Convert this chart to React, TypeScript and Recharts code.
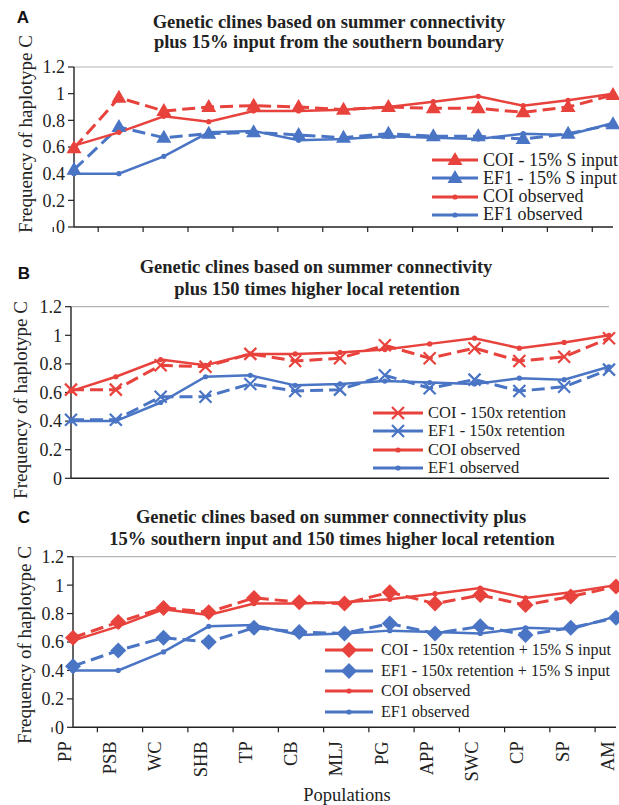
import { LineChart, Line, XAxis, YAxis, ReferenceLine } from 'recharts'

const populations = ['PP', 'PSB', 'WC', 'SHB', 'TP', 'CB', 'MLJ', 'PG', 'APP', 'SWC', 'CP', 'SP', 'AM']

// observed frequencies (same in every panel)
const coiObserved = [0.61, 0.71, 0.83, 0.79, 0.87, 0.87, 0.88, 0.9, 0.94, 0.98, 0.91, 0.95, 1.0]
const ef1Observed = [0.4, 0.4, 0.53, 0.71, 0.72, 0.65, 0.66, 0.68, 0.67, 0.66, 0.7, 0.69, 0.78]

// A: 15% southern input
const coiSInput = [0.59, 0.97, 0.87, 0.9, 0.91, 0.9, 0.88, 0.9, 0.89, 0.89, 0.86, 0.9, 0.99]
const ef1SInput = [0.43, 0.75, 0.67, 0.7, 0.71, 0.69, 0.67, 0.7, 0.68, 0.68, 0.66, 0.7, 0.77]

// B: 150x retention
const coiRetention = [0.62, 0.62, 0.79, 0.78, 0.87, 0.82, 0.84, 0.93, 0.84, 0.91, 0.82, 0.85, 0.98]
const ef1Retention = [0.41, 0.41, 0.57, 0.57, 0.66, 0.61, 0.62, 0.72, 0.63, 0.69, 0.61, 0.64, 0.76]

// C: both
const coiCombined = [0.63, 0.74, 0.84, 0.81, 0.91, 0.88, 0.87, 0.95, 0.87, 0.93, 0.86, 0.92, 0.99]
const ef1Combined = [0.43, 0.54, 0.63, 0.6, 0.7, 0.67, 0.66, 0.73, 0.66, 0.71, 0.65, 0.7, 0.77]

const yTicks = [0, 0.2, 0.4, 0.6, 0.8, 1, 1.2]

const RED = '#E8423D'
const BLUE = '#4A74C4'
const SERIF = "'Liberation Serif', 'DejaVu Serif', 'Times New Roman', Times, serif"
const SANS = "'Liberation Sans', Arial, sans-serif"

const rows = populations.map((population, i) => ({
  population,
  coiObserved: coiObserved[i],
  ef1Observed: ef1Observed[i],
  coiSInput: coiSInput[i],
  ef1SInput: ef1SInput[i],
  coiRetention: coiRetention[i],
  ef1Retention: ef1Retention[i],
  coiCombined: coiCombined[i],
  ef1Combined: ef1Combined[i],
}))

type Marker = 'triangle' | 'cross' | 'diamond' | 'dot'

function MarkerShape({ kind, cx, cy, color }: { kind: Marker; cx?: number; cy?: number; color: string }) {
  if (cx == null || cy == null) return null
  if (kind === 'triangle')
    return <polygon points={`${cx},${cy - 8} ${cx - 7.5},${cy + 5} ${cx + 7.5},${cy + 5}`} fill={color} />
  if (kind === 'cross')
    return (
      <path
        d={`M${cx - 6},${cy - 6}L${cx + 6},${cy + 6}M${cx - 6},${cy + 6}L${cx + 6},${cy - 6}`}
        stroke={color}
        strokeWidth={2.2}
        fill="none"
      />
    )
  if (kind === 'diamond')
    return <polygon points={`${cx},${cy - 8} ${cx + 8},${cy} ${cx},${cy + 8} ${cx - 8},${cy}`} fill={color} />
  return <circle cx={cx} cy={cy} r={2.6} fill={color} />
}

const dotFor = (kind: Marker, color: string) => (p: any) =>
  <MarkerShape key={`${kind}-${p.index}`} kind={kind} cx={p.cx} cy={p.cy} color={color} />

interface PanelProps {
  top: number
  height: number
  plotTop: number
  plotBottom: number
  plotLeft: number
  plotRight: number
  xAxisHeight: number
  coiKey: string
  ef1Key: string
  marker: Marker
  xTicks: boolean
  xLabels: boolean
}

function Panel(props: PanelProps) {
  const { top, height, plotTop, plotBottom, plotLeft, plotRight, xAxisHeight, coiKey, ef1Key, marker, xTicks, xLabels } = props
  const band = (plotRight - plotLeft) / populations.length

  const renderTick = (t: any) => {
    const { x, y, index } = t
    return (
      <g>
        {xTicks && <line x1={x - band / 2} x2={x - band / 2} y1={y} y2={y + 5} stroke="#222" strokeWidth={1.2} />}
        {xTicks && index === populations.length - 1 && (
          <line x1={x + band / 2} x2={x + band / 2} y1={y} y2={y + 5} stroke="#222" strokeWidth={1.2} />
        )}
        {xLabels && (
          <text
            x={x - 2}
            y={y + 14}
            transform={`rotate(-90, ${x - 2}, ${y + 14})`}
            textAnchor="end"
            fontFamily={SERIF}
            fontSize={18.5}
            fill="#222"
          >
            {t.payload.value}
          </text>
        )}
      </g>
    )
  }

  return (
    <div style={{ position: 'absolute', left: 0, top }}>
      <LineChart
        width={619}
        height={height}
        data={rows}
        style={{ overflow: 'visible' }}
        margin={{
          top: plotTop,
          right: 619 - plotRight,
          bottom: height - plotBottom - xAxisHeight,
          left: plotLeft - 40,
        }}
      >
        <XAxis
          dataKey="population"
          type="category"
          interval={0}
          height={xAxisHeight}
          tickLine={false}
          tickSize={0}
          tickMargin={0}
          axisLine={{ stroke: '#222', strokeWidth: 1.4 }}
          tick={renderTick}
        />
        <YAxis
          yAxisId="left"
          width={40}
          domain={[0, 1.2]}
          ticks={yTicks}
          interval={0}
          tickSize={6}
          tickMargin={3}
          tickLine={{ stroke: '#222', strokeWidth: 1.2 }}
          axisLine={{ stroke: '#222', strokeWidth: 1.4 }}
          tick={{ fontFamily: SERIF, fontSize: 18, fill: '#222' }}
        />
        <YAxis
          yAxisId="right"
          orientation="right"
          width={0}
          domain={[0, 1.2]}
          tick={false}
          tickLine={false}
          axisLine={{ stroke: '#b4b4b4', strokeWidth: 1.2 }}
        />
        <ReferenceLine yAxisId="left" y={1.2} stroke="#b4b4b4" strokeWidth={1.2} />
        <Line
          yAxisId="left"
          dataKey={coiKey}
          stroke={RED}
          strokeWidth={3}
          strokeDasharray="13 6"
          dot={dotFor(marker, RED)}
          activeDot={false}
          isAnimationActive={false}
        />
        <Line
          yAxisId="left"
          dataKey={ef1Key}
          stroke={BLUE}
          strokeWidth={3}
          strokeDasharray="13 6"
          dot={dotFor(marker, BLUE)}
          activeDot={false}
          isAnimationActive={false}
        />
        <Line
          yAxisId="left"
          dataKey="coiObserved"
          stroke={RED}
          strokeWidth={2.5}
          dot={dotFor('dot', RED)}
          activeDot={false}
          isAnimationActive={false}
        />
        <Line
          yAxisId="left"
          dataKey="ef1Observed"
          stroke={BLUE}
          strokeWidth={2.5}
          dot={dotFor('dot', BLUE)}
          activeDot={false}
          isAnimationActive={false}
        />
      </LineChart>
    </div>
  )
}

interface LegendProps {
  x: number
  y: number
  rowH: number
  lineW: number
  gap: number
  fontSize: number
  marker: Marker
  labels: string[]
}

function LegendBox({ x, y, rowH, lineW, gap, fontSize, marker, labels }: LegendProps) {
  const colors = [RED, BLUE, RED, BLUE]
  const kinds: Marker[] = [marker, marker, 'dot', 'dot']
  return (
    <div style={{ position: 'absolute', left: x, top: y - rowH / 2 }}>
      {labels.map((label, i) => (
        <div key={label} style={{ display: 'flex', alignItems: 'center', height: rowH }}>
          <svg width={lineW} height={18} style={{ marginRight: gap, flex: 'none' }}>
            <line x1={1} x2={lineW - 1} y1={9} y2={9} stroke={colors[i]} strokeWidth={3} />
            <MarkerShape kind={kinds[i]} cx={lineW / 2} cy={9} color={colors[i]} />
          </svg>
          <span style={{ fontFamily: SERIF, fontSize, color: '#222', whiteSpace: 'nowrap' }}>{label}</span>
        </div>
      ))}
    </div>
  )
}

function Centered({ cx, cy, style, children }: { cx: number; cy: number; style: any; children: any }) {
  return (
    <div
      style={{
        position: 'absolute',
        left: cx,
        top: cy,
        transform: 'translate(-50%, -50%)',
        whiteSpace: 'nowrap',
        lineHeight: 1,
        ...style,
      }}
    >
      {children}
    </div>
  )
}

const titleStyle = { fontFamily: SERIF, fontWeight: 'bold', fontSize: 18.5, color: '#222' }
const letterStyle = { fontFamily: SANS, fontWeight: 'bold', fontSize: 17, color: '#111' }
const yLabelStyle = { fontFamily: SERIF, fontSize: 19, color: '#222' }

function YLabel({ cx, cy }: { cx: number; cy: number }) {
  return (
    <div
      style={{
        position: 'absolute',
        left: cx,
        top: cy,
        transform: 'translate(-50%, -50%) rotate(-90deg)',
        whiteSpace: 'nowrap',
        lineHeight: 1,
        ...yLabelStyle,
      }}
    >
      Frequency of haplotype C
    </div>
  )
}

export default function App() {
  return (
    <div style={{ position: 'absolute', left: 0, top: 0, width: 619, height: 805, background: '#fff', overflow: 'hidden' }}>
      <Panel
        top={0}
        height={245}
        plotTop={67}
        plotBottom={227}
        plotLeft={74}
        plotRight={613}
        xAxisHeight={8}
        coiKey="coiSInput"
        ef1Key="ef1SInput"
        marker="triangle"
        xTicks
        xLabels={false}
      />
      <Panel
        top={245}
        height={250}
        plotTop={61.7}
        plotBottom={233.3}
        plotLeft={71}
        plotRight={609}
        xAxisHeight={2}
        coiKey="coiRetention"
        ef1Key="ef1Retention"
        marker="cross"
        xTicks={false}
        xLabels={false}
      />
      <Panel
        top={490}
        height={315}
        plotTop={66.7}
        plotBottom={237.3}
        plotLeft={73}
        plotRight={616}
        xAxisHeight={60}
        coiKey="coiCombined"
        ef1Key="ef1Combined"
        marker="diamond"
        xTicks
        xLabels
      />

      <Centered cx={23} cy={17} style={letterStyle}>A</Centered>
      <Centered cx={329} cy={21.5} style={titleStyle}>Genetic clines based on summer connectivity</Centered>
      <Centered cx={329} cy={42} style={titleStyle}>plus 15% input from the southern boundary</Centered>

      <Centered cx={24} cy={273} style={letterStyle}>B</Centered>
      <Centered cx={316} cy={266.7} style={titleStyle}>Genetic clines based on summer connectivity</Centered>
      <Centered cx={317} cy={289} style={titleStyle}>plus 150 times higher local retention</Centered>

      <Centered cx={24} cy={517} style={letterStyle}>C</Centered>
      <Centered cx={331} cy={517} style={titleStyle}>Genetic clines based on summer connectivity plus</Centered>
      <Centered cx={332} cy={539} style={titleStyle}>15% southern input and 150 times higher local retention</Centered>

      <YLabel cx={25} cy={134} />
      <YLabel cx={20} cy={400} />
      <YLabel cx={24} cy={645} />

      <Centered cx={347} cy={795} style={{ fontFamily: SERIF, fontSize: 18.5, color: '#222' }}>Populations</Centered>

      <LegendBox
        x={431}
        y={160}
        rowH={18.3}
        lineW={48}
        gap={4}
        fontSize={18}
        marker="triangle"
        labels={['COI - 15% S input', 'EF1 - 15% S input', 'COI observed', 'EF1 observed']}
      />
      <LegendBox
        x={372}
        y={413}
        rowH={18.3}
        lineW={52}
        gap={4}
        fontSize={16.5}
        marker="cross"
        labels={['COI - 150x retention', 'EF1 - 150x retention', 'COI observed', 'EF1 observed']}
      />
      <LegendBox
        x={324}
        y={650}
        rowH={20.7}
        lineW={50}
        gap={7}
        fontSize={16}
        marker="diamond"
        labels={[
          'COI - 150x retention + 15% S input',
          'EF1 - 150x retention + 15% S input',
          'COI observed',
          'EF1 observed',
        ]}
      />
    </div>
  )
}
